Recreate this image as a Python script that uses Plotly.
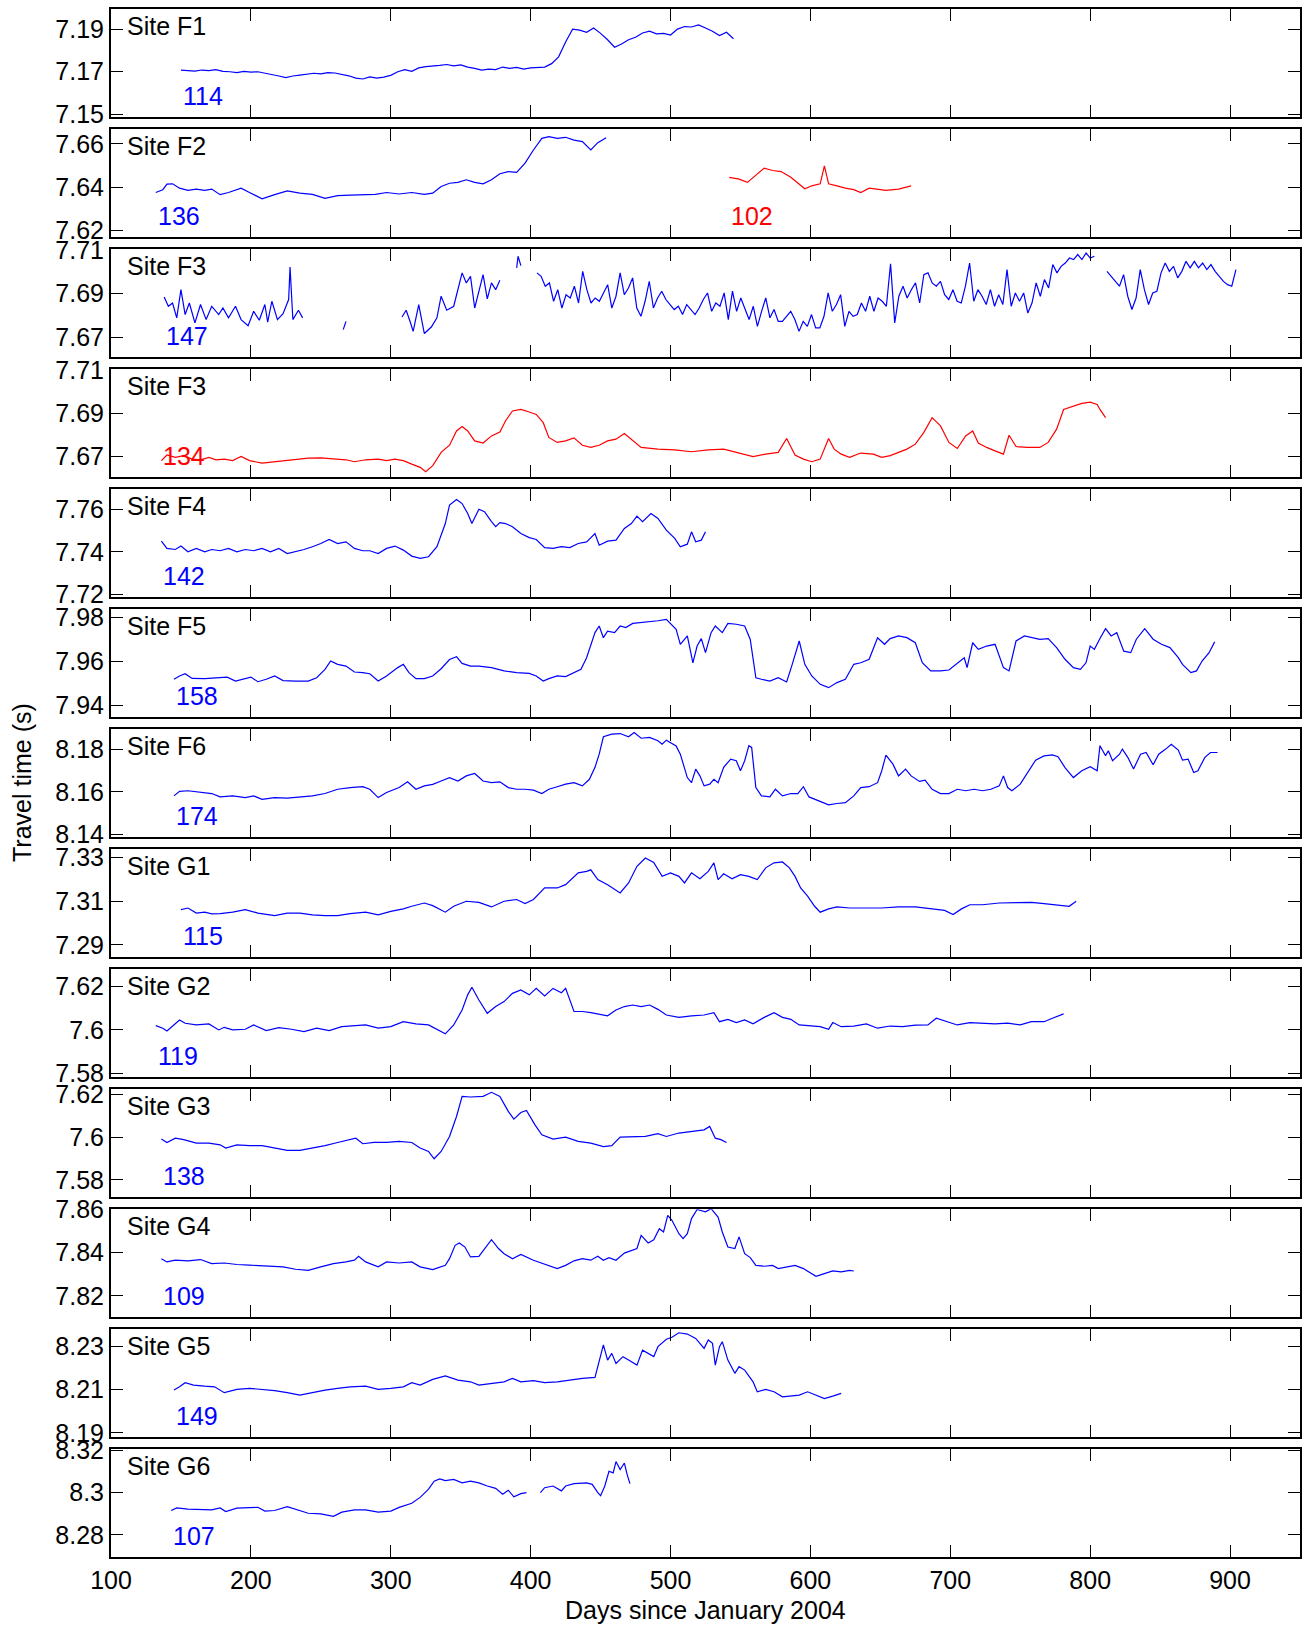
import plotly.graph_objects as go

# ---------------- DATA ----------------
# F1 (blue), regular sampling from day 150, every 5 days
F1_START, F1_STEP = 150, 5
F1_TT = [7.1708, 7.1706, 7.1703, 7.1708, 7.1705, 7.1710, 7.1702, 7.1700, 7.1696, 7.1702,
         7.1698, 7.1700, 7.1694, 7.1688, 7.1680, 7.1672, 7.1680, 7.1684, 7.1690, 7.1693,
         7.1690, 7.1696, 7.1694, 7.1688, 7.1681, 7.1670, 7.1666, 7.1676, 7.1670, 7.1675,
         7.1683, 7.1700, 7.1710, 7.1702, 7.1718, 7.1724, 7.1726, 7.1730, 7.1734, 7.1728,
         7.1732, 7.1722, 7.1716, 7.1708, 7.1712, 7.1710, 7.1722, 7.1716, 7.1720, 7.1712,
         7.1718, 7.1720, 7.1722, 7.1738, 7.1770, 7.1840, 7.1900, 7.1895, 7.1885, 7.1905,
         7.1880, 7.1850, 7.1815, 7.1830, 7.1850, 7.1862, 7.1882, 7.1890, 7.1878, 7.1880,
         7.1872, 7.1900, 7.1912, 7.1910, 7.1920, 7.1905, 7.1890, 7.1870, 7.1885, 7.1855]

F2A_DAYS = [132, 137, 140, 144, 149, 155, 161, 167, 172, 178, 184, 193, 199, 208, 217, 226, 235,
            244, 253, 262, 271, 280, 289, 297, 306, 315, 324, 330, 336, 342, 348, 354, 360, 366,
            372, 378, 384, 390, 396, 402, 408, 413, 419, 425, 431, 437, 443, 448, 454]
F2A_TT = [7.6375, 7.6388, 7.6414, 7.6415, 7.6395, 7.6385, 7.6391, 7.6385, 7.6391, 7.6365,
          7.6375, 7.6395, 7.6375, 7.6346, 7.6365, 7.6382, 7.6372, 7.6366, 7.6348, 7.6360,
          7.6363, 7.6363, 7.6366, 7.6375, 7.6368, 7.6375, 7.6366, 7.6372, 7.6403, 7.6418,
          7.6422, 7.6434, 7.6422, 7.6415, 7.6434, 7.6462, 7.6472, 7.6468, 7.6511, 7.6572,
          7.6626, 7.6634, 7.6626, 7.6631, 7.6618, 7.6611, 7.6572, 7.6606, 7.6629]
F2B_DAYS = [542, 549, 555, 561, 567, 573, 579, 586, 592, 596, 601, 607, 610, 613, 619, 625,
            631, 636, 642, 648, 654, 663, 672]
F2B_TT = [7.6445, 7.6437, 7.6422, 7.6457, 7.6488, 7.6477, 7.6472, 7.6446, 7.6415, 7.6392,
          7.6406, 7.6415, 7.6498, 7.6415, 7.6406, 7.6395, 7.6388, 7.6375, 7.6395, 7.6391,
          7.6385, 7.6391, 7.6406]

F3A_DAYS = [138, 141, 144, 147, 150, 153, 156, 160, 164, 168, 172, 177, 180, 184, 189, 193,
            198, 202, 206, 210, 212, 215, 219, 223, 227, 228, 230, 234, 237]
F3A_TT = [7.6885, 7.6842, 7.6857, 7.6789, 7.6918, 7.6804, 7.6857, 7.6766, 7.6850, 7.6781,
          7.6842, 7.6804, 7.6834, 7.6789, 7.6842, 7.6781, 7.6753, 7.6819, 7.6778, 7.6850,
          7.6769, 7.6865, 7.6781, 7.6808, 7.6873, 7.7022, 7.6781, 7.6824, 7.6789]
F3B_DAYS = [266, 268]
F3B_TT = [7.6735, 7.6773]
F3C_DAYS = [308, 311, 314, 316, 320, 324, 329, 333, 336, 340, 345, 348, 351, 354, 357, 360,
            363, 366, 369, 372, 375, 378]
F3C_TT = [7.6793, 7.6824, 7.6769, 7.6727, 7.6850, 7.6717, 7.6747, 7.6789, 7.6888, 7.6824,
          7.6842, 7.6926, 7.6995, 7.6949, 7.6979, 7.6834, 7.6918, 7.6987, 7.6876, 7.6949,
          7.6918, 7.6961]
F3D_DAYS = [390, 391, 393]
F3D_TT = [7.7018, 7.7071, 7.7028]
F3E_START, F3E_STEP = 404.5, 2.974
F3E_TT = [7.6995, 7.6979, 7.6934, 7.6949, 7.6865, 7.6918, 7.6834, 7.6895, 7.6880, 7.6934,
          7.6857, 7.7002, 7.6918, 7.6857, 7.6880, 7.6865, 7.6903, 7.6941, 7.6834, 7.6888,
          7.6995, 7.6895, 7.6926, 7.6972, 7.6834, 7.6796, 7.6865, 7.6956, 7.6834, 7.6880,
          7.6911, 7.6873, 7.6850, 7.6827, 7.6842, 7.6804, 7.6850, 7.6827, 7.6804, 7.6834,
          7.6873, 7.6903, 7.6819, 7.6857, 7.6842, 7.6903, 7.6781, 7.6911, 7.6819, 7.6880,
          7.6834, 7.6781, 7.6842, 7.6750, 7.6819, 7.6880, 7.6789, 7.6827, 7.6773, 7.6773,
          7.6796, 7.6819, 7.6781, 7.6727, 7.6773, 7.6750, 7.6804, 7.6743, 7.6743, 7.6796,
          7.6903, 7.6819, 7.6850, 7.6895, 7.6750, 7.6819, 7.6796, 7.6804, 7.6857, 7.6819,
          7.6888, 7.6819, 7.6880, 7.6865, 7.6842, 7.7037, 7.6766, 7.6888, 7.6934, 7.6880,
          7.6918, 7.6949, 7.6857, 7.6987, 7.6995, 7.6949, 7.6934, 7.6956, 7.6895, 7.6873,
          7.6918, 7.6865, 7.6857, 7.6934, 7.7040, 7.6865, 7.6918, 7.6888, 7.6850, 7.6918,
          7.6842, 7.6895, 7.6850, 7.7010, 7.6842, 7.6903, 7.6865, 7.6903, 7.6811, 7.6857,
          7.6949, 7.6888, 7.6964, 7.6926, 7.7033, 7.6995, 7.7025, 7.7040, 7.7063, 7.7056,
          7.7079, 7.7056, 7.7086, 7.7063, 7.7071]
F3F_START, F3F_STEP = 812, 2.974
F3F_TT = [7.7002, 7.6979, 7.6956, 7.6934, 7.6987, 7.6888, 7.6827, 7.6880, 7.7010, 7.6918,
          7.6850, 7.6903, 7.6911, 7.6995, 7.7040, 7.7002, 7.7025, 7.6972, 7.7002, 7.7048,
          7.7018, 7.7048, 7.7018, 7.7040, 7.7010, 7.7033, 7.7002, 7.6979, 7.6956, 7.6941,
          7.6934, 7.7010]

F3R_DAYS = [136, 140, 146, 152, 158, 164, 170, 175, 181, 187, 193, 199, 208, 217, 223, 229,
            235, 241, 250, 259, 268, 274, 282, 291, 297, 303, 309, 315, 321, 325, 330, 336,
            342, 347, 351, 355, 360, 366, 372, 378, 382, 387, 393, 399, 404, 409, 413, 419,
            425, 431, 437, 443, 449, 455, 461, 467, 473, 479, 491, 503, 515, 527, 538, 550,
            559, 568, 577, 583, 589, 595, 601, 607, 613, 617, 622, 628, 636, 645, 651, 657,
            663, 669, 675, 681, 687, 693, 699, 705, 711, 716, 720, 726, 732, 738, 742, 747,
            755, 764, 770, 776, 781, 788, 794, 800, 805, 807, 811]
F3R_TT = [7.6682, 7.6708, 7.6697, 7.6705, 7.6689, 7.6686, 7.6697, 7.6686, 7.6689, 7.6682,
          7.6701, 7.6682, 7.6671, 7.6677, 7.6682, 7.6686, 7.6689, 7.6694, 7.6695, 7.6692,
          7.6686, 7.6677, 7.6686, 7.6689, 7.6682, 7.6689, 7.6682, 7.6666, 7.6651, 7.6631,
          7.6659, 7.6720, 7.6753, 7.6819, 7.6839, 7.6819, 7.6773, 7.6763, 7.6796, 7.6814,
          7.6865, 7.6911, 7.6918, 7.6906, 7.6895, 7.6857, 7.6789, 7.6766, 7.6773, 7.6787,
          7.6753, 7.6743, 7.6753, 7.6773, 7.6781, 7.6807, 7.6773, 7.6743, 7.6735, 7.6732,
          7.6723, 7.6732, 7.6735, 7.6717, 7.6701, 7.6712, 7.6720, 7.6784, 7.6708, 7.6689,
          7.6677, 7.6689, 7.6784, 7.6735, 7.6712, 7.6697, 7.6717, 7.6712, 7.6697, 7.6705,
          7.6720, 7.6735, 7.6758, 7.6811, 7.6880, 7.6842, 7.6766, 7.6738, 7.6796, 7.6819,
          7.6763, 7.6743, 7.6727, 7.6712, 7.6799, 7.6747, 7.6743, 7.6743, 7.6766, 7.6827,
          7.6918, 7.6934, 7.6946, 7.6952, 7.6941, 7.6918, 7.6880]

F4_DAYS = [136, 140, 146, 150, 155, 161, 167, 172, 178, 184, 190, 196, 202, 208, 214, 220,
           226, 232, 238, 244, 250, 256, 262, 268, 274, 280, 285, 291, 297, 303, 309, 315,
           321, 327, 333, 339, 342, 347, 351, 355, 358, 363, 367, 372, 375, 378, 382, 387,
           393, 399, 404, 410, 416, 422, 428, 434, 440, 446, 449, 455, 461, 467, 472, 476,
           480, 486, 491, 497, 503, 507, 512, 515, 518, 522, 525]
F4_TT = [7.7450, 7.7416, 7.7411, 7.7427, 7.7400, 7.7416, 7.7400, 7.7411, 7.7405, 7.7416,
         7.7400, 7.7411, 7.7405, 7.7416, 7.7400, 7.7416, 7.7392, 7.7400, 7.7411, 7.7424,
         7.7439, 7.7458, 7.7439, 7.7447, 7.7416, 7.7405, 7.7405, 7.7392, 7.7416, 7.7427,
         7.7408, 7.7380, 7.7369, 7.7377, 7.7424, 7.7533, 7.7620, 7.7646, 7.7627, 7.7580,
         7.7533, 7.7600, 7.7589, 7.7542, 7.7518, 7.7537, 7.7533, 7.7518, 7.7486, 7.7467,
         7.7458, 7.7420, 7.7416, 7.7424, 7.7420, 7.7439, 7.7447, 7.7486, 7.7431, 7.7450,
         7.7455, 7.7510, 7.7533, 7.7568, 7.7542, 7.7580, 7.7557, 7.7502, 7.7463, 7.7424,
         7.7436, 7.7494, 7.7447, 7.7455, 7.7494]

F5_DAYS = [145, 149, 153, 158, 167, 175, 183, 189, 195, 200, 205, 211, 217, 223, 232, 241,
           247, 253, 257, 262, 268, 274, 280, 285, 291, 297, 305, 309, 313, 318, 324, 330,
           336, 342, 347, 351, 357, 363, 372, 381, 390, 399, 404, 409, 413, 419, 425, 431,
           436, 440, 443, 446, 449, 452, 455, 460, 464, 468, 473, 479, 485, 491, 497, 500,
           504, 507, 512, 516, 519, 522, 525, 529, 532, 537, 541, 547, 553, 557, 561, 565,
           571, 577, 583, 587, 592, 596, 601, 607, 613, 619, 625, 631, 636, 642, 648, 653,
           657, 663, 669, 675, 680, 686, 693, 699, 705, 710, 712, 716, 720, 726, 732, 738,
           742, 747, 753, 758, 764, 770, 776, 782, 788, 793, 797, 800, 803, 807, 811, 815,
           819, 824, 829, 833, 839, 845, 851, 857, 863, 866, 872, 876, 880, 885, 889]
F5_TT = [7.9520, 7.9535, 7.9545, 7.9524, 7.9523, 7.9527, 7.9530, 7.9512, 7.9520, 7.9530,
         7.9509, 7.9520, 7.9535, 7.9514, 7.9512, 7.9512, 7.9527, 7.9565, 7.9603, 7.9588,
         7.9580, 7.9553, 7.9550, 7.9545, 7.9512, 7.9535, 7.9573, 7.9588, 7.9550, 7.9523,
         7.9523, 7.9535, 7.9568, 7.9610, 7.9623, 7.9592, 7.9580, 7.9580, 7.9573, 7.9558,
         7.9550, 7.9547, 7.9535, 7.9512, 7.9523, 7.9535, 7.9532, 7.9550, 7.9565, 7.9618,
         7.9671, 7.9732, 7.9762, 7.9709, 7.9739, 7.9732, 7.9762, 7.9755, 7.9774, 7.9777,
         7.9782, 7.9786, 7.9792, 7.9774, 7.9747, 7.9679, 7.9717, 7.9595, 7.9671, 7.9705,
         7.9641, 7.9732, 7.9762, 7.9732, 7.9774, 7.9770, 7.9762, 7.9701, 7.9527, 7.9520,
         7.9512, 7.9527, 7.9508, 7.9588, 7.9694, 7.9588, 7.9535, 7.9497, 7.9482, 7.9505,
         7.9520, 7.9588, 7.9595, 7.9611, 7.9709, 7.9679, 7.9705, 7.9717, 7.9709, 7.9686,
         7.9595, 7.9558, 7.9558, 7.9562, 7.9595, 7.9618, 7.9573, 7.9686, 7.9656, 7.9671,
         7.9679, 7.9573, 7.9558, 7.9694, 7.9717, 7.9709, 7.9701, 7.9705, 7.9664, 7.9611,
         7.9573, 7.9565, 7.9595, 7.9671, 7.9656, 7.9705, 7.9750, 7.9717, 7.9732, 7.9648,
         7.9641, 7.9702, 7.9750, 7.9702, 7.9679, 7.9664, 7.9618, 7.9588, 7.9550, 7.9558,
         7.9603, 7.9641, 7.9690]

F6_DAYS = [145, 149, 155, 164, 172, 178, 187, 196, 202, 208, 217, 226, 235, 244, 253, 262,
           271, 280, 285, 291, 297, 306, 312, 318, 324, 330, 336, 342, 348, 354, 360, 366,
           372, 378, 384, 390, 396, 402, 408, 413, 419, 425, 431, 437, 442, 446, 449, 452,
           458, 464, 470, 474, 479, 485, 491, 494, 497, 500, 504, 507, 512, 515, 518, 521,
           524, 528, 531, 534, 538, 543, 547, 550, 553, 556, 558, 561, 565, 571, 575, 580,
           586, 591, 595, 599, 607, 613, 619, 625, 631, 636, 642, 648, 651, 654, 659, 663,
           668, 672, 678, 682, 687, 693, 699, 705, 711, 717, 723, 729, 735, 738, 741, 744,
           750, 754, 758, 761, 767, 773, 777, 782, 788, 794, 800, 805, 807, 811, 813, 816,
           821, 823, 827, 831, 836, 840, 845, 849, 854, 858, 863, 866, 870, 874, 877, 882,
           886, 891]
F6_TT = [8.1581, 8.1602, 8.1605, 8.1597, 8.1592, 8.1576, 8.1581, 8.1573, 8.1581, 8.1565,
         8.1573, 8.1570, 8.1576, 8.1581, 8.1592, 8.1612, 8.1620, 8.1624, 8.1612, 8.1573,
         8.1597, 8.1620, 8.1647, 8.1612, 8.1628, 8.1635, 8.1651, 8.1667, 8.1651, 8.1675,
         8.1686, 8.1651, 8.1643, 8.1647, 8.1620, 8.1612, 8.1612, 8.1608, 8.1592, 8.1612,
         8.1624, 8.1636, 8.1643, 8.1628, 8.1659, 8.1715, 8.1777, 8.1859, 8.1871, 8.1874,
         8.1859, 8.1879, 8.1852, 8.1856, 8.1840, 8.1824, 8.1843, 8.1832, 8.1816, 8.1777,
         8.1667, 8.1643, 8.1707, 8.1675, 8.1628, 8.1636, 8.1659, 8.1643, 8.1715, 8.1754,
         8.1746, 8.1699, 8.1746, 8.1817, 8.1809, 8.1620, 8.1581, 8.1576, 8.1612, 8.1581,
         8.1592, 8.1592, 8.1624, 8.1576, 8.1554, 8.1539, 8.1545, 8.1549, 8.1581, 8.1620,
         8.1624, 8.1643, 8.1699, 8.1773, 8.1730, 8.1675, 8.1707, 8.1675, 8.1649, 8.1655,
         8.1612, 8.1592, 8.1592, 8.1612, 8.1605, 8.1612, 8.1605, 8.1612, 8.1628, 8.1675,
         8.1620, 8.1605, 8.1636, 8.1675, 8.1714, 8.1749, 8.1769, 8.1774, 8.1765, 8.1714,
         8.1667, 8.1699, 8.1718, 8.1699, 8.1817, 8.1770, 8.1793, 8.1746, 8.1777, 8.1801,
         8.1761, 8.1707, 8.1777, 8.1785, 8.1727, 8.1777, 8.1801, 8.1824, 8.1796, 8.1749,
         8.1754, 8.1691, 8.1699, 8.1762, 8.1785, 8.1785]

G1_DAYS = [150, 155, 161, 167, 172, 178, 187, 196, 205, 217, 226, 235, 244, 253, 262, 271,
           282, 291, 300, 309, 315, 324, 330, 339, 345, 354, 363, 372, 381, 390, 396, 402,
           410, 419, 425, 434, 440, 443, 448, 455, 464, 470, 476, 482, 488, 494, 500, 506,
           510, 515, 521, 527, 531, 534, 538, 544, 550, 556, 562, 568, 574, 580, 585, 589,
           593, 598, 603, 607, 613, 619, 628, 640, 651, 663, 675, 687, 696, 702, 708, 714,
           723, 735, 747, 758, 767, 776, 785, 790]
G1_TT = [7.3062, 7.3069, 7.3046, 7.3050, 7.3042, 7.3043, 7.3050, 7.3062, 7.3046, 7.3034,
         7.3046, 7.3046, 7.3038, 7.3034, 7.3034, 7.3043, 7.3050, 7.3038, 7.3054, 7.3065,
         7.3077, 7.3092, 7.3080, 7.3050, 7.3077, 7.3100, 7.3095, 7.3074, 7.3100, 7.3108,
         7.3089, 7.3108, 7.3161, 7.3161, 7.3176, 7.3230, 7.3237, 7.3244, 7.3199, 7.3176,
         7.3138, 7.3184, 7.3260, 7.3298, 7.3278, 7.3214, 7.3230, 7.3214, 7.3184, 7.3230,
         7.3203, 7.3237, 7.3276, 7.3199, 7.3226, 7.3203, 7.3222, 7.3214, 7.3199, 7.3253,
         7.3276, 7.3280, 7.3253, 7.3214, 7.3161, 7.3123, 7.3077, 7.3050, 7.3065, 7.3074,
         7.3069, 7.3069, 7.3069, 7.3074, 7.3074, 7.3065, 7.3058, 7.3039, 7.3065, 7.3084,
         7.3084, 7.3092, 7.3095, 7.3095, 7.3089, 7.3084, 7.3077, 7.3100]

G2_DAYS = [132, 137, 140, 145, 149, 153, 161, 170, 177, 181, 187, 196, 202, 211, 220, 229,
           238, 247, 256, 265, 274, 282, 291, 300, 309, 318, 327, 335, 339, 345, 351, 355,
           358, 363, 369, 375, 381, 387, 393, 399, 404, 410, 416, 422, 425, 431, 437, 443,
           449, 455, 461, 467, 473, 479, 485, 491, 497, 506, 515, 524, 531, 535, 541, 547,
           553, 559, 567, 574, 580, 586, 592, 601, 607, 613, 616, 622, 631, 640, 648, 657,
           666, 675, 684, 690, 696, 705, 714, 723, 732, 741, 750, 758, 767, 773, 781]
G2_TT = [7.6020, 7.6008, 7.5995, 7.6023, 7.6046, 7.6031, 7.6023, 7.6028, 7.6000, 7.6012,
         7.6000, 7.6003, 7.6023, 7.5997, 7.6011, 7.6003, 7.5992, 7.6008, 7.5997, 7.6015,
         7.6018, 7.6023, 7.6008, 7.6015, 7.6038, 7.6028, 7.6023, 7.5997, 7.5982, 7.6023,
         7.6092, 7.6162, 7.6197, 7.6138, 7.6077, 7.6108, 7.6131, 7.6169, 7.6185, 7.6162,
         7.6192, 7.6157, 7.6192, 7.6172, 7.6192, 7.6085, 7.6085, 7.6080, 7.6074, 7.6065,
         7.6092, 7.6108, 7.6115, 7.6108, 7.6115, 7.6095, 7.6069, 7.6058, 7.6065, 7.6069,
         7.6080, 7.6038, 7.6049, 7.6034, 7.6046, 7.6028, 7.6058, 7.6080, 7.6058, 7.6049,
         7.6023, 7.6018, 7.6015, 7.6003, 7.6034, 7.6015, 7.6018, 7.6028, 7.6008, 7.6018,
         7.6015, 7.6022, 7.6023, 7.6054, 7.6043, 7.6023, 7.6034, 7.6031, 7.6028, 7.6031,
         7.6023, 7.6038, 7.6038, 7.6054, 7.6074]

G3_DAYS = [136, 140, 146, 152, 161, 170, 178, 182, 190, 199, 208, 217, 226, 235, 244, 253,
           262, 271, 275, 280, 288, 297, 306, 315, 321, 327, 331, 336, 342, 347, 351, 357,
           366, 372, 378, 384, 388, 393, 397, 403, 408, 416, 425, 434, 443, 452, 458, 464,
           473, 482, 491, 497, 506, 515, 524, 528, 532, 536, 540]
G3_TT = [7.5991, 7.5975, 7.5995, 7.5988, 7.5972, 7.5972, 7.5964, 7.5949, 7.5964, 7.5960,
         7.5960, 7.5949, 7.5938, 7.5938, 7.5949, 7.5960, 7.5975, 7.5988, 7.5995, 7.5969,
         7.5975, 7.5975, 7.5980, 7.5975, 7.5949, 7.5933, 7.5899, 7.5933, 7.6003, 7.6096,
         7.6190, 7.6187, 7.6190, 7.6209, 7.6190, 7.6120, 7.6084, 7.6115, 7.6124, 7.6058,
         7.6011, 7.5991, 7.6000, 7.5980, 7.5972, 7.5956, 7.5960, 7.6000, 7.6003, 7.6003,
         7.6016, 7.6003, 7.6019, 7.6026, 7.6034, 7.6050, 7.5995, 7.5988, 7.5975]

G4_DAYS = [136, 140, 146, 155, 164, 172, 181, 190, 199, 211, 223, 232, 241, 250, 259, 268,
           274, 277, 282, 291, 297, 306, 315, 321, 330, 339, 342, 346, 349, 353, 357, 363,
           367, 372, 377, 381, 387, 393, 402, 410, 419, 425, 431, 437, 443, 448, 452, 456,
           461, 467, 476, 479, 484, 488, 492, 495, 498, 501, 506, 509, 512, 515, 519, 525,
           529, 534, 537, 541, 546, 549, 553, 557, 561, 567, 573, 577, 583, 589, 595, 599,
           604, 610, 616, 622, 628, 631]
G4_TT = [7.8372, 7.8357, 7.8365, 7.8362, 7.8368, 7.8349, 7.8352, 7.8345, 7.8342, 7.8337,
         7.8334, 7.8323, 7.8318, 7.8334, 7.8349, 7.8357, 7.8365, 7.8383, 7.8357, 7.8334,
         7.8357, 7.8352, 7.8357, 7.8334, 7.8321, 7.8341, 7.8372, 7.8434, 7.8445, 7.8426,
         7.8380, 7.8383, 7.8419, 7.8460, 7.8419, 7.8395, 7.8372, 7.8392, 7.8365, 7.8346,
         7.8326, 7.8341, 7.8362, 7.8372, 7.8365, 7.8383, 7.8365, 7.8377, 7.8365, 7.8398,
         7.8419, 7.8480, 7.8445, 7.8460, 7.8511, 7.8496, 7.8573, 7.8550, 7.8488, 7.8465,
         7.8488, 7.8558, 7.8600, 7.8589, 7.8604, 7.8565, 7.8496, 7.8426, 7.8419, 7.8473,
         7.8395, 7.8377, 7.8341, 7.8337, 7.8341, 7.8326, 7.8334, 7.8341, 7.8326, 7.8311,
         7.8290, 7.8303, 7.8315, 7.8311, 7.8318, 7.8315]

G5_DAYS = [145, 149, 153, 159, 167, 174, 181, 190, 199, 208, 217, 226, 235, 244, 253, 262,
           271, 282, 291, 300, 309, 315, 321, 330, 339, 348, 357, 363, 372, 381, 387, 393,
           402, 410, 419, 428, 437, 446, 449, 452, 455, 458, 461, 466, 470, 476, 480, 484,
           488, 491, 494, 497, 501, 506, 512, 518, 524, 527, 530, 532, 535, 537, 541, 546,
           549, 553, 559, 562, 568, 574, 580, 586, 592, 598, 604, 610, 616, 622]
G5_TT = [8.2097, 8.2112, 8.2131, 8.2120, 8.2115, 8.2112, 8.2085, 8.2100, 8.2105, 8.2100,
         8.2094, 8.2085, 8.2074, 8.2085, 8.2097, 8.2105, 8.2112, 8.2115, 8.2100, 8.2105,
         8.2112, 8.2131, 8.2120, 8.2146, 8.2162, 8.2143, 8.2135, 8.2120, 8.2128, 8.2135,
         8.2151, 8.2135, 8.2140, 8.2131, 8.2135, 8.2143, 8.2151, 8.2155, 8.2235, 8.2305,
         8.2235, 8.2266, 8.2220, 8.2251, 8.2235, 8.2212, 8.2281, 8.2266, 8.2251, 8.2297,
         8.2312, 8.2331, 8.2340, 8.2361, 8.2355, 8.2335, 8.2289, 8.2328, 8.2312, 8.2212,
         8.2297, 8.2320, 8.2235, 8.2174, 8.2205, 8.2189, 8.2135, 8.2089, 8.2100, 8.2089,
         8.2066, 8.2069, 8.2074, 8.2089, 8.2074, 8.2058, 8.2069, 8.2082]

G6A_DAYS = [143, 147, 155, 164, 172, 178, 182, 190, 199, 205, 210, 217, 226, 234, 241, 250,
            259, 265, 274, 282, 291, 300, 306, 315, 321, 327, 331, 335, 339, 345, 351, 357,
            363, 369, 375, 380, 384, 388, 393, 397]
G6A_TT = [8.2915, 8.2927, 8.2921, 8.2919, 8.2918, 8.2927, 8.2910, 8.2926, 8.2927, 8.2930,
          8.2912, 8.2915, 8.2933, 8.2915, 8.2902, 8.2899, 8.2887, 8.2907, 8.2918, 8.2918,
          8.2907, 8.2912, 8.2930, 8.2949, 8.2977, 8.3016, 8.3054, 8.3065, 8.3057, 8.3062,
          8.3046, 8.3054, 8.3046, 8.3031, 8.3020, 8.2992, 8.3011, 8.2980, 8.2995, 8.3000]
G6B_DAYS = [407, 410, 416, 422, 425, 431, 440, 444, 448, 450, 453, 456, 459, 461, 464, 467,
            469, 471]
G6B_TT = [8.3000, 8.3023, 8.3031, 8.3008, 8.3031, 8.3042, 8.3046, 8.3039, 8.3000, 8.2985,
          8.3031, 8.3101, 8.3093, 8.3147, 8.3109, 8.3140, 8.3085, 8.3042]

SITE_NAMES = ["Site F1", "Site F2", "Site F3", "Site F3", "Site F4", "Site F5", "Site F6",
              "Site G1", "Site G2", "Site G3", "Site G4", "Site G5", "Site G6"]
Y_RANGES = [(7.1489, 7.1993), (7.6170, 7.6668), (7.6611, 7.7103), (7.6608, 7.7103),
            (7.7189, 7.7694), (7.9350, 7.9838), (8.1389, 8.1894), (7.2846, 7.3338),
            (7.5784, 7.6280), (7.5722, 7.6223), (7.8103, 7.8601), (8.1882, 8.2377),
            (8.2696, 8.3205)]
Y_TICKS = [[7.15, 7.17, 7.19], [7.62, 7.64, 7.66], [7.67, 7.69, 7.71], [7.67, 7.69, 7.71],
           [7.72, 7.74, 7.76], [7.94, 7.96, 7.98], [8.14, 8.16, 8.18], [7.29, 7.31, 7.33],
           [7.58, 7.60, 7.62], [7.58, 7.60, 7.62], [7.82, 7.84, 7.86], [8.19, 8.21, 8.23],
           [8.28, 8.30, 8.32]]
Y_TICK_TEXT = [["7.15", "7.17", "7.19"], ["7.62", "7.64", "7.66"], ["7.67", "7.69", "7.71"],
               ["7.67", "7.69", "7.71"], ["7.72", "7.74", "7.76"], ["7.94", "7.96", "7.98"],
               ["8.14", "8.16", "8.18"], ["7.29", "7.31", "7.33"], ["7.58", "7.6", "7.62"],
               ["7.58", "7.6", "7.62"], ["7.82", "7.84", "7.86"], ["8.19", "8.21", "8.23"],
               ["8.28", "8.3", "8.32"]]
X_TICKS = [100, 200, 300, 400, 500, 600, 700, 800, 900]
X_RANGE = (100, 950)

BLUE = "#0000FF"
RED = "#FF0000"


def regular_days(start, step, vals):
    return [start + step * i for i in range(len(vals))]


# panel -> list of (days, values, colour, count label or None)
PANELS = [
    [(regular_days(F1_START, F1_STEP, F1_TT), F1_TT, BLUE, "114")],
    [(F2A_DAYS, F2A_TT, BLUE, "136"), (F2B_DAYS, F2B_TT, RED, "102")],
    [(F3A_DAYS, F3A_TT, BLUE, "147"), (F3B_DAYS, F3B_TT, BLUE, None),
     (F3C_DAYS, F3C_TT, BLUE, None), (F3D_DAYS, F3D_TT, BLUE, None),
     (regular_days(F3E_START, F3E_STEP, F3E_TT), F3E_TT, BLUE, None),
     (regular_days(F3F_START, F3F_STEP, F3F_TT), F3F_TT, BLUE, None)],
    [(F3R_DAYS, F3R_TT, RED, "134")],
    [(F4_DAYS, F4_TT, BLUE, "142")],
    [(F5_DAYS, F5_TT, BLUE, "158")],
    [(F6_DAYS, F6_TT, BLUE, "174")],
    [(G1_DAYS, G1_TT, BLUE, "115")],
    [(G2_DAYS, G2_TT, BLUE, "119")],
    [(G3_DAYS, G3_TT, BLUE, "138")],
    [(G4_DAYS, G4_TT, BLUE, "109")],
    [(G5_DAYS, G5_TT, BLUE, "149")],
    [(G6A_DAYS, G6A_TT, BLUE, "107"), (G6B_DAYS, G6B_TT, BLUE, None)],
]

# ---------------- LAYOUT ----------------
W, H = 1307, 1627
M_L, M_R, M_T, M_B = 111, 7, 9, 70
PANEL_TOP0, PANEL_H, PANEL_STEP = 9.3, 107.4, 120.0
PLOT_H = H - M_T - M_B
FONT = "Liberation Sans, Arial, Helvetica, sans-serif"
FS = 25

fig = go.Figure()
layout = dict(
    width=W, height=H,
    margin=dict(l=M_L, r=M_R, t=M_T, b=M_B, pad=0, autoexpand=False),
    paper_bgcolor="white", plot_bgcolor="white",
    showlegend=False,
    font=dict(family=FONT, size=FS, color="black"),
)
annotations = []
n = len(PANELS)
for k in range(n):
    idx = "" if k == 0 else str(k + 1)
    top_px = PANEL_TOP0 + PANEL_STEP * k
    y_top = 1 - (top_px - M_T) / PLOT_H
    y_bot = 1 - (top_px + PANEL_H - M_T) / PLOT_H
    for days, vals, color, label in PANELS[k]:
        fig.add_trace(go.Scatter(x=days, y=vals, mode="lines",
                                 line=dict(color=color, width=1.2),
                                 xaxis="x" + idx, yaxis="y" + idx,
                                 hoverinfo="skip"))
        if label:
            annotations.append(dict(
                text=label, x=days[0], y=0.19, xref="x" + idx, yref="y%s domain" % idx,
                xanchor="left", yanchor="middle", showarrow=False,
                font=dict(family=FONT, size=FS, color=color)))
    annotations.append(dict(
        text=SITE_NAMES[k], x=0.0118, y=0.845, xref="x%s domain" % idx,
        yref="y%s domain" % idx, xanchor="left", yanchor="middle", showarrow=False,
        font=dict(family=FONT, size=FS, color="black")))
    last = (k == n - 1)
    layout["xaxis" + idx] = dict(
        domain=[0, 1], range=list(X_RANGE), anchor="y" + idx, automargin=False,
        tickmode="array", tickvals=X_TICKS, ticks="inside", ticklen=12, tickwidth=1,
        tickcolor="black", showline=True, linecolor="black", linewidth=2, mirror="ticks",
        showgrid=False, zeroline=False, showticklabels=last,
        tickfont=dict(family=FONT, size=FS, color="black"),
    )
    layout["yaxis" + idx] = dict(
        domain=[y_bot, y_top], range=list(Y_RANGES[k]), anchor="x" + idx, automargin=False,
        tickmode="array", tickvals=Y_TICKS[k], ticktext=Y_TICK_TEXT[k],
        ticks="inside", ticklen=12, tickwidth=1, tickcolor="black",
        showline=True, linecolor="black", linewidth=2, mirror="ticks",
        showgrid=False, zeroline=False,
        tickfont=dict(family=FONT, size=FS, color="black"),
    )

annotations.append(dict(
    text="Days since January 2004", x=0.5, y=(H - M_B - 1610) / PLOT_H,
    xref="paper", yref="paper", xanchor="center", yanchor="middle", showarrow=False,
    font=dict(family=FONT, size=FS, color="black")))
annotations.append(dict(
    text="Travel time (s)", x=(22 - M_L) / (W - M_L - M_R), y=1 - (783 - M_T) / PLOT_H,
    xref="paper", yref="paper",
    xanchor="center", yanchor="middle", showarrow=False, textangle=-90,
    font=dict(family=FONT, size=FS, color="black")))

layout["annotations"] = annotations
fig.update_layout(**layout)
fig.write_html("out.html")
